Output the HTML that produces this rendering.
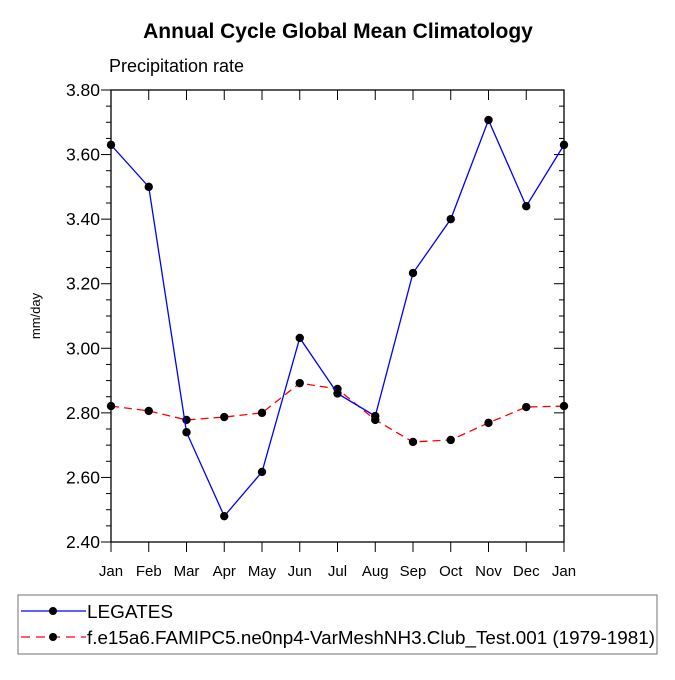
<!DOCTYPE html>
<html><head><meta charset="utf-8"><style>
body{margin:0;background:#fff}
svg text{font-family:"Liberation Sans",Arial,sans-serif}
</style></head><body>
<svg width="675" height="675" viewBox="0 0 675 675" xmlns="http://www.w3.org/2000/svg">
<text x="338" y="38" text-anchor="middle" font-size="21" font-weight="bold">Annual Cycle Global Mean Climatology</text>
<text x="109" y="72" font-size="18">Precipitation rate</text>
<text x="0" y="0" transform="translate(40,316) rotate(-90)" text-anchor="middle" font-size="13">mm/day</text>
<g id="axes"></g>
<g id="marks"></g>
<rect x="18" y="595" width="639" height="59" fill="none" stroke="#888" stroke-width="1.2"/>
<g>
<line x1="21" y1="611" x2="86" y2="611" stroke="#0000ff" stroke-width="1.3"/>
<circle cx="53" cy="611" r="4" fill="#000"/>
<text x="87" y="618" font-size="18" textLength="86" lengthAdjust="spacingAndGlyphs">LEGATES</text></g>
<g>
<line x1="21" y1="637" x2="86" y2="637" stroke="#ff0000" stroke-width="1.3" stroke-dasharray="9,6"/>
<circle cx="53" cy="637" r="4" fill="#000"/>
<text x="87" y="644" font-size="18" textLength="568" lengthAdjust="spacingAndGlyphs">f.e15a6.FAMIPC5.ne0np4-VarMeshNH3.Club_Test.001 (1979-1981)</text></g>
</svg>
<script>
const months=["Jan","Feb","Mar","Apr","May","Jun","Jul","Aug","Sep","Oct","Nov","Dec","Jan"];
const legates=[3.63,3.50,2.74,2.48,2.617,3.032,2.86,2.79,3.233,3.40,3.707,3.44,3.63];
const model=[2.821,2.806,2.778,2.787,2.80,2.892,2.874,2.778,2.71,2.716,2.769,2.818,2.821];
const yTicks=[2.40,2.60,2.80,3.00,3.20,3.40,3.60,3.80];
const X0=111,X1=564,Y0=542,Y1=90,YMIN=2.4,YMAX=3.8;
const xs=i=>X0+(X1-X0)*i/(months.length-1);
const ys=v=>Y0-(v-YMIN)/(YMAX-YMIN)*(Y0-Y1);
const NS="http://www.w3.org/2000/svg";
function mk(t,a,p){const e=document.createElementNS(NS,t);for(const k in a)e.setAttribute(k,a[k]);p.appendChild(e);return e;}
const ax=document.getElementById('axes'),mg=document.getElementById('marks');
const fr=mk('rect',{x:X0,y:Y1,width:X1-X0,height:Y0-Y1,fill:'none',stroke:'#000','stroke-width':1.3},ax);


months.forEach((m,i)=>{const x=xs(i);
mk('line',{x1:x,y1:Y0,x2:x,y2:Y0+10,stroke:'#000'},ax);
mk('line',{x1:x,y1:Y1,x2:x,y2:Y1+10,stroke:'#000'},ax);
const t=mk('text',{x:x,y:Y0+34,'text-anchor':'middle','font-size':15},ax);t.textContent=m;

});
for(let v=YMIN;v<=YMAX+1e-9;v+=0.05){const y=ys(v);const major=Math.abs(Math.round(v*5)-v*5)<1e-6;const L=major?10:5;
mk('line',{x1:X0-L,y1:y,x2:X0,y2:y,stroke:'#000'},ax);
mk('line',{x1:X1-L,y1:y,x2:X1,y2:y,stroke:'#000'},ax);}
yTicks.forEach(v=>{const t=mk('text',{x:X0-11,y:ys(v)+6,'text-anchor':'end','font-size':17.5},ax);t.textContent=v.toFixed(2);

});
function series(d,col,dash,name){
const p=mk('polyline',{points:d.map((v,i)=>xs(i)+','+ys(v)).join(' '),fill:'none',stroke:col,'stroke-width':1.3,'stroke-dasharray':dash},mg);


d.forEach((v,i)=>{const c=mk('circle',{cx:xs(i),cy:ys(v),r:4.2,fill:'#000'},mg);

});}
series(model,'#ff0000','8,5','model');
series(legates,'#0000ff','none','legates');
</script>
</body></html>
